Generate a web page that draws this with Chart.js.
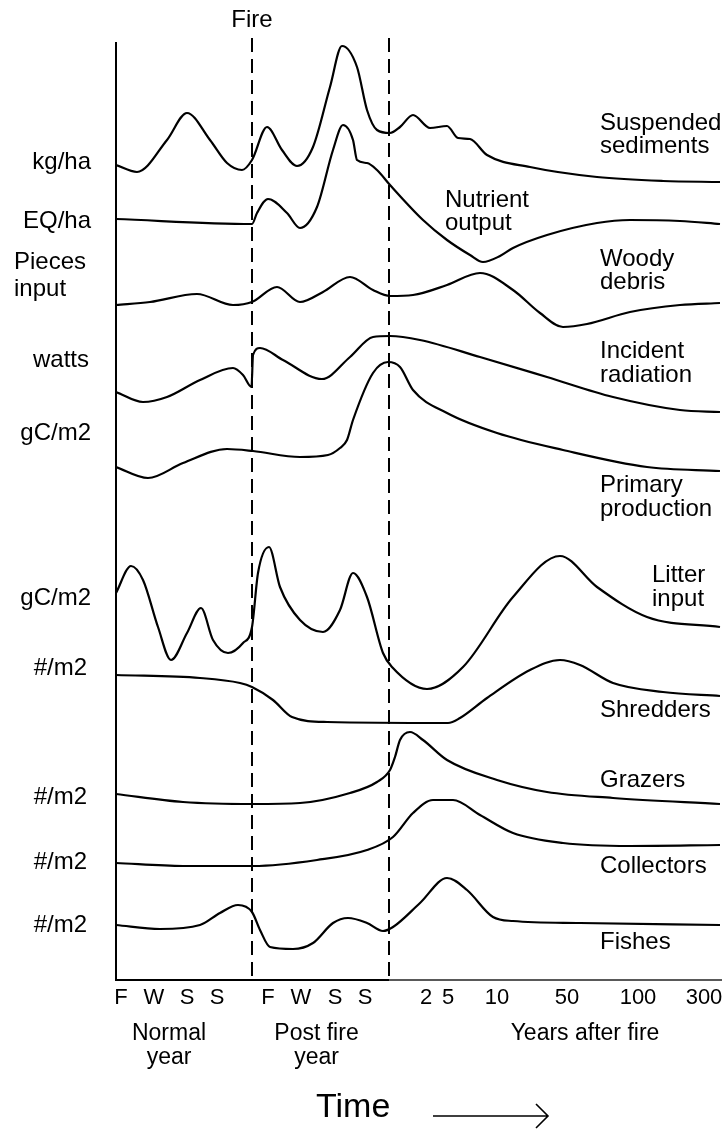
<!DOCTYPE html>
<html><head><meta charset="utf-8">
<script src="https://cdn.jsdelivr.net/npm/chart.js@4.4.1/dist/chart.umd.min.js"></script>
<style>html,body{margin:0;padding:0;background:#fff;}canvas{display:block;}</style>
</head><body>
<canvas id="c" width="725" height="1145"></canvas>
<script>
// ---- Time axis markers (time units from the left axis) ----
const fireTime = 136;
const recoveryTime = 273;
const seasonTicks = ['F','W','S','S','F','W','S','S'];
const seasonTickTimes = [5, 38, 71, 101, 152, 185, 219, 249];
const yearTicks = ['2','5','10','50','100','300'];
const yearTickTimes = [310, 332, 381, 451, 522, 588];
const periodLabels = [['Normal','year'], ['Post fire','year'], ['Years after fire']];

// ---- Series names and units ----
const seriesNames = [['Suspended','sediments'], ['Nutrient','output'], ['Woody','debris'], ['Incident','radiation'],
  ['Primary','production'], ['Litter','input'], ['Shredders'], ['Grazers'], ['Collectors'], ['Fishes']];
const seriesUnits = [['kg/ha'], ['EQ/ha'], ['Pieces','input'], ['watts'], ['gC/m2'], ['gC/m2'], ['#/m2'], ['#/m2'], ['#/m2'], ['#/m2']];

// ---- Series values (time, relative level) ----
const sedimentT = [0,21,51,71,94,111,126,136,151,166,181,197,214,226,241,251,261,274,284,297,314,331,342,354,371,414,481,547,604];
const sedimentV = [815,808,840,867,840,817,810,820,853,830,814,833,893,934,913,870,850,847,853,865,852,854,842,841,825,813,803,799,798];

const nutrientT = [0,136,141,152,171,184,201,217,227,237,241,251,261,274,307,331,354,367,384,397,431,481,514,564,604];
const nutrientV = [761,756,767,781,767,752,773,830,855,840,820,817,810,795,760,740,725,718,724,732,745,757,760,759,756];

const woodyT = [0,34,81,117,136,161,184,207,234,257,274,297,331,364,397,424,447,471,514,564,604];
const woodyV = [675,678,686,675,678,693,678,688,703,690,684,685,695,707,690,667,653,656,668,675,677];

const radiationT = [0,27,51,84,117,127,135.5,137,144,167,206,234,257,274,304,364,431,497,564,604];
const radiationV = [588,578,583,600,612,605,593,625,632,620,601,623,643,644,640,623,603,583,570,568];

const productionT = [0,32,67,111,137,184,212,224,231,237,257,272,284,297,331,381,447,531,604];
const productionV = [513,502,517,531,529,523,525,532,540,560,607,618,613,590,567,547,530,513,509];

const litterT = [0,15,27,42,55,71,85,97,112,127,136,142,153,164,184,207,224,237,251,267,276,311,347,397,444,481,531,604];
const litterV = [387,414,400,353,320,347,372,340,327,337,353,407,433,393,360,348,370,407,383,327,313,291,313,383,424,393,363,353];

const shredderT = [0,84,124,136,157,176,211,332,344,371,414,444,464,497,547,604];
const shredderV = [305,302,297,293,280,263,258,257,262,282,310,320,315,297,288,284];

const grazerT = [0,67,137,184,234,261,274,279,284,294,307,331,381,431,497,604];
const grazerV = [186,178,176,177,187,198,210,223,240,248,240,220,200,188,182,176];

const collectorT = [0,67,137,201,251,277,297,317,337,364,397,447,514,604];
const collectorV = [117,114,114,120,130,143,167,180,180,165,147,137,134,135];

const fishT = [0,44,84,104,122,136,144,154,177,197,217,232,251,267,277,304,331,351,377,397,464,604];
const fishV = [55,51,55,67,75,68,50,33,31,37,57,62,57,49,53,77,102,90,63,59,57,55];

const seriesT = [sedimentT, nutrientT, woodyT, radiationT, productionT, litterT, shredderT, grazerT, collectorT, fishT];
const seriesV = [sedimentV, nutrientV, woodyV, radiationV, productionV, litterV, shredderV, grazerV, collectorV, fishV];

// ---- Layout / style (not data) ----
const FONT = '"Liberation Sans", Arial, Helvetica, sans-serif';
const nameLayout = [
  {x:600, y:[130,153]}, {x:445, y:[207,230]}, {x:600, y:[266,289]}, {x:600, y:[358,382]},
  {x:600, y:[492,516]}, {x:652, y:[582,606]}, {x:600, y:[717]}, {x:600, y:[787]},
  {x:600, y:[873]}, {x:600, y:[949]}
];
const unitLayout = [
  {x:91, y:[162], align:'right'}, {x:91, y:[221], align:'right'}, {x:14, y:[262,289], align:'left'},
  {x:89, y:[360], align:'right'}, {x:91, y:[433], align:'right'}, {x:91, y:[598], align:'right'},
  {x:87, y:[668], align:'right'}, {x:87, y:[797], align:'right'}, {x:87, y:[862], align:'right'},
  {x:87, y:[925], align:'right'}
];

const datasets = seriesT.map((ts, i) => ({
  label: seriesNames[i].join(' '),
  data: ts.map((t, k) => ({x: t, y: seriesV[i][k]})),
  borderColor: '#000',
  borderWidth: 2.2,
  pointRadius: 0,
  fill: false,
  cubicInterpolationMode: 'monotone'
}));

const decor = {
  id: 'decor',
  beforeDatasetsDraw(chart) {
    const ctx = chart.ctx, xs = chart.scales.x, ys = chart.scales.y;
    ctx.save();
    ctx.strokeStyle = '#000';
    ctx.lineWidth = 2;
    ctx.beginPath();
    ctx.moveTo(xs.getPixelForValue(0), ys.getPixelForValue(938));
    ctx.lineTo(xs.getPixelForValue(0), ys.getPixelForValue(0));
    ctx.lineTo(xs.getPixelForValue(recoveryTime), ys.getPixelForValue(0));
    ctx.stroke();
    ctx.lineWidth = 1.6;
    ctx.strokeStyle = '#222';
    ctx.beginPath();
    ctx.moveTo(xs.getPixelForValue(recoveryTime), ys.getPixelForValue(0));
    ctx.lineTo(xs.getPixelForValue(606), ys.getPixelForValue(0));
    ctx.stroke();
    ctx.strokeStyle = '#000';
    ctx.lineWidth = 2;
    ctx.setLineDash([14, 7]);
    [fireTime, recoveryTime].forEach(t => {
      ctx.beginPath();
      ctx.moveTo(xs.getPixelForValue(t), ys.getPixelForValue(942));
      ctx.lineTo(xs.getPixelForValue(t), ys.getPixelForValue(0));
      ctx.stroke();
    });
    ctx.restore();
  },
  afterDraw(chart) {
    const ctx = chart.ctx, xs = chart.scales.x, ys = chart.scales.y;
    ctx.save();
    ctx.fillStyle = '#000';
    ctx.font = '24px ' + FONT;
    ctx.textBaseline = 'alphabetic';
    ctx.textAlign = 'left';
    seriesNames.forEach((lines, i) => {
      lines.forEach((s, j) => ctx.fillText(s, nameLayout[i].x, nameLayout[i].y[j]));
    });
    ctx.textBaseline = 'middle';
    seriesUnits.forEach((lines, i) => {
      ctx.textAlign = unitLayout[i].align;
      lines.forEach((s, j) => ctx.fillText(s, unitLayout[i].x, unitLayout[i].y[j]));
    });
    ctx.textAlign = 'center';
    ctx.fillText('Fire', xs.getPixelForValue(fireTime), 20);
    ctx.font = '22px ' + FONT;
    const tickY = ys.getPixelForValue(0) + 18;
    seasonTicks.forEach((s, i) => ctx.fillText(s, xs.getPixelForValue(seasonTickTimes[i]), tickY));
    yearTicks.forEach((s, i) => ctx.fillText(s, xs.getPixelForValue(yearTickTimes[i]), tickY));
    ctx.font = '23px ' + FONT;
    const periodX = [
      (xs.getPixelForValue(seasonTickTimes[0]) + xs.getPixelForValue(seasonTickTimes[3])) / 2,
      (xs.getPixelForValue(seasonTickTimes[4]) + xs.getPixelForValue(seasonTickTimes[7])) / 2,
      (xs.getPixelForValue(yearTickTimes[0]) + xs.getPixelForValue(yearTickTimes[5])) / 2 + 20
    ];
    periodLabels.forEach((lines, i) => {
      lines.forEach((s, j) => ctx.fillText(s, periodX[i], tickY + 36 + j * 24));
    });
    ctx.font = '34px ' + FONT;
    ctx.textAlign = 'left';
    ctx.fillText('Time', 316, 1108);
    ctx.lineWidth = 1.6;
    ctx.strokeStyle = '#000';
    ctx.beginPath();
    ctx.moveTo(433, 1116); ctx.lineTo(548, 1116);
    ctx.moveTo(536, 1104); ctx.lineTo(548, 1116); ctx.lineTo(536, 1128);
    ctx.stroke();
    ctx.restore();
  }
};

new Chart(document.getElementById('c'), {
  type: 'line',
  data: { datasets },
  options: {
    responsive: false,
    animation: false,
    devicePixelRatio: 1,
    events: [],
    layout: { padding: { left: 116, right: 3, top: 38, bottom: 165 } },
    plugins: { legend: { display: false }, tooltip: { enabled: false } },
    scales: {
      x: { type: 'linear', display: false, min: 0, max: 606 },
      y: { type: 'linear', display: false, min: 0, max: 942 }
    }
  },
  plugins: [decor]
});
</script>
</body></html>
